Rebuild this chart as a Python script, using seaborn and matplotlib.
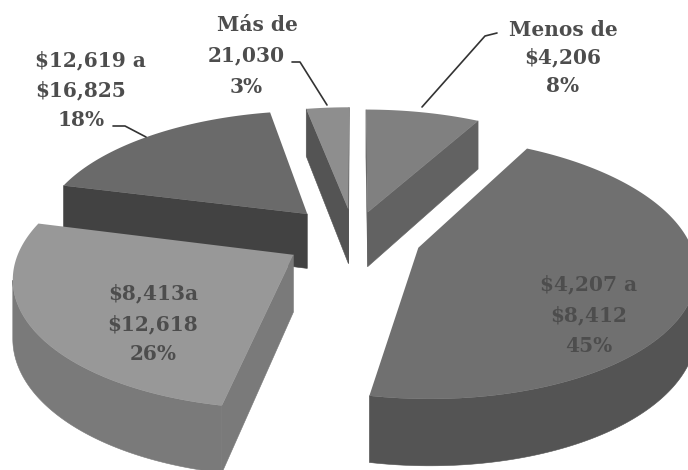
import numpy as np
import matplotlib
matplotlib.use("Agg")
import matplotlib.pyplot as plt
import seaborn as sns

shares = [8, 45, 26, 18, 3]
names = [["Menos de", "$4,206"], ["$4,207 a", "$8,412"], ["$8,413a", "$12,618"],
         ["$12,619 a", "$16,825"], ["Más de", "21,030"]]
top_grey = [128, 112, 152, 106, 142]
radial_grey = [98, 90, 122, 66, 84]
arc_grey = [92, 84, 122, 66, 84]
explode = [0.21, 0.25, 0.26, 0.26, 0.23]
draw_order = [3, 4, 0, 1, 2]
label_x = [(563, 563, 563), (589, 589, 589), (153, 153, 153), (90, 81, 81), (257, 246, 246)]
label_y = [(30, 57, 86), (284, 315, 346), (293, 324, 354), (60, 90, 120), (25, 55, 87)]
leaders = [[(497, 33), (485, 36), (422, 107)], [], [],
           [(113, 126), (125, 126), (146, 137)], [(292, 62), (300, 62), (327, 105)]]

CX, CY, A, B, P, H = 354, 237, 270, 125, 0.15, 56

sns.set_theme(style="white")
plt.rcParams["font.family"] = ["DejaVu Serif"]
fig = plt.figure(figsize=(6.88, 4.70), dpi=100)
ax = fig.add_axes([0, 0, 1, 1])
ax.set_xlim(0, 688)
ax.set_ylim(470, 0)
ax.axis("off")


def project(x, y, low=False):
    w = 1 + P * y
    return CX + A * x / w, CY - B * y / w + (H / w if low else 0)


def grey(v):
    return (v / 255, v / 255, v / 255)


def area(poly):
    p = np.array(poly)
    return 0.5 * np.sum(p[:, 0] * np.roll(p[:, 1], -1) - np.roll(p[:, 0], -1) * p[:, 1])


fractions = np.array(shares) / sum(shares)
edges = np.concatenate([[0], np.cumsum(fractions)]) * 2 * np.pi

for i in draw_order:
    th = np.linspace(edges[i], edges[i + 1], 160)
    mid = (edges[i] + edges[i + 1]) / 2
    ox, oy = explode[i] * np.sin(mid), explode[i] * np.cos(mid)
    xs, ys = ox + np.sin(th), oy + np.cos(th)
    apex_t, apex_b = project(ox, oy), project(ox, oy, True)
    t_pts = [project(a, b) for a, b in zip(xs, ys)]
    b_pts = [project(a, b, True) for a, b in zip(xs, ys)]
    for quad in ([apex_t, t_pts[0], b_pts[0], apex_b], [t_pts[-1], apex_t, apex_b, b_pts[-1]]):
        if area(quad) < 0:
            ax.fill(*zip(*quad), color=grey(radial_grey[i]), lw=0.4)
    shown = [k for k in range(len(th) - 1)
             if area([t_pts[k + 1], t_pts[k], b_pts[k], b_pts[k + 1]]) > 0]
    if shown:
        keep = shown + [shown[-1] + 1]
        wall = [t_pts[k] for k in keep] + [b_pts[k] for k in reversed(keep)]
        ax.fill(*zip(*wall), color=grey(arc_grey[i]), lw=0.4)
    ax.fill(*zip(*([apex_t] + t_pts)), color=grey(top_grey[i]), lw=0)

for i, name in enumerate(names):
    for text, x, y in zip(name + [f"{shares[i]}%"], label_x[i], label_y[i]):
        ax.text(x, y, text, ha="center", va="center", fontsize=14.5,
                fontweight="bold", color="#4d4d4d")
    if leaders[i]:
        ax.plot(*zip(*leaders[i]), color="#333333", lw=1.2)

fig.savefig("out.png", dpi=100, facecolor="white")
